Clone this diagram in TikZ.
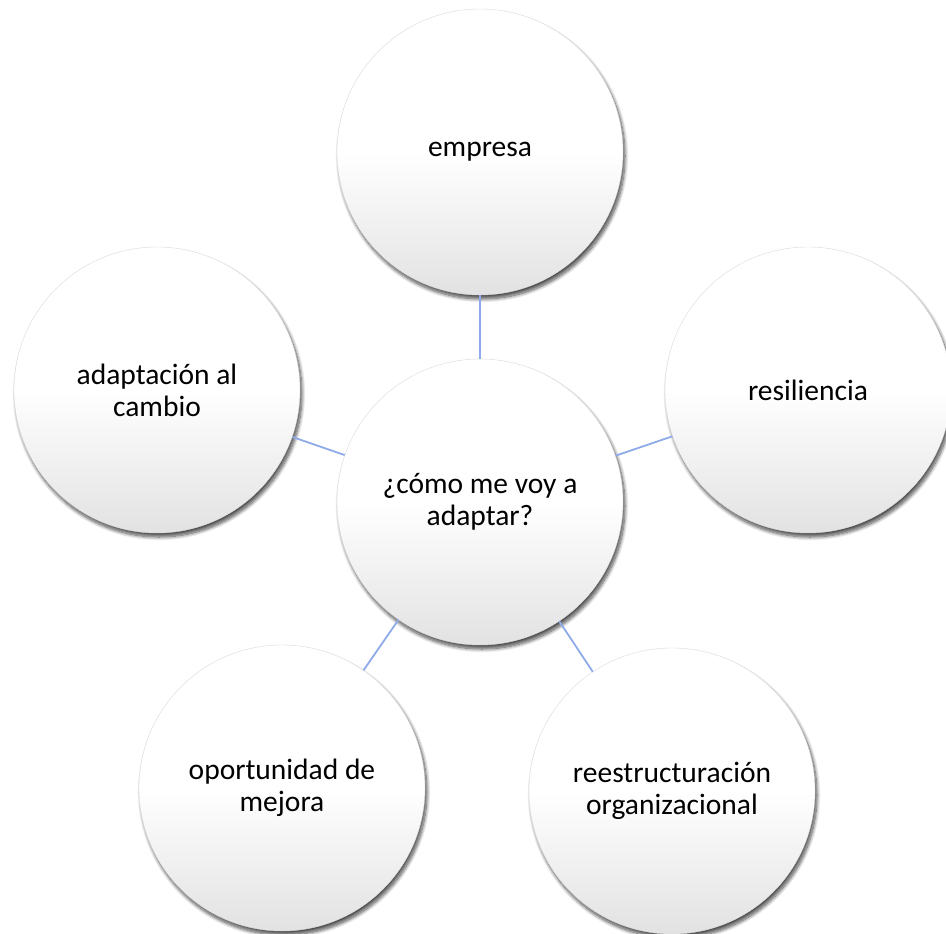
\documentclass[tikz,border=0pt]{standalone}
\usepackage{fontspec}
\setmainfont{Carlito}
\usetikzlibrary{shadows.blur}
\definecolor{linkblue}{RGB}{143,170,232}
\definecolor{rimgray}{RGB}{218,218,218}
\definecolor{botgray}{RGB}{226,226,226}
\tikzset{
  bubble/.style={circle, minimum size=286pt, inner sep=0pt, draw=rimgray, line width=0.4pt,
    top color=white, bottom color=botgray, middle color=white,
    blur shadow={shadow xshift=2pt, shadow yshift=-4pt, shadow blur radius=3.5pt, shadow blur steps=10, shadow opacity=70},
    align=center, font=\fontsize{29.5}{32}\selectfont},
  link/.style={draw=linkblue, line width=1.8pt}
}
\begin{document}
\begin{tikzpicture}[x=1pt,y=-1pt]
\useasboundingbox (0,0) rectangle (946,934);
\node[bubble] (top) at (480,152) {empresa};
\node[bubble] (left) at (157,390) {adaptación al\\cambio};
\node[bubble] (right) at (808,390) {resiliencia};
\node[bubble] (bl) at (282,788) {oportunidad de\\mejora};
\node[bubble] (br) at (672,791) {reestructuración\\organizacional};
\node[bubble] (center) at (480,502) {¿cómo me voy a\\adaptar?};
\draw[link] (center) -- (top);
\draw[link] (center) -- (left);
\draw[link] (center) -- (right);
\draw[link] (center) -- (bl);
\draw[link] (center) -- (br);
\end{tikzpicture}
\end{document}
